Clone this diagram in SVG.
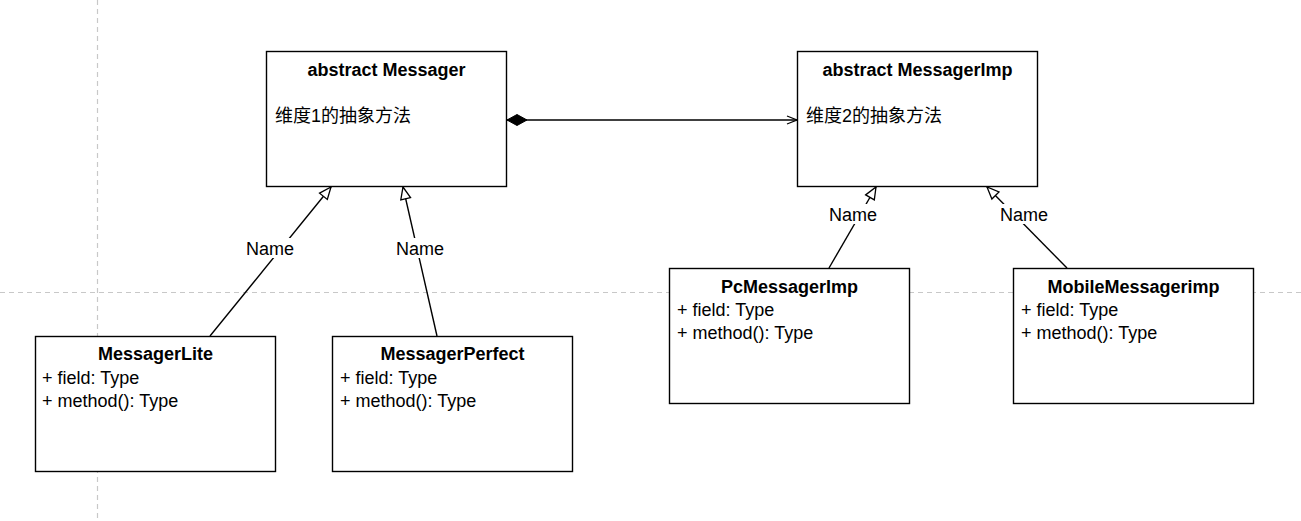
<svg xmlns="http://www.w3.org/2000/svg" width="1301" height="521" viewBox="0 0 1301 521">
<style>
.guide{stroke:#c8c8c8;stroke-width:1.2;stroke-dasharray:5 4;fill:none}
.box{fill:#fff;stroke:#000;stroke-width:1.4}
.t{font-family:"Liberation Sans",Arial,"Noto Sans CJK SC",sans-serif;font-size:18px;fill:#000}
.b{font-weight:bold;text-anchor:middle}
.cn{font-family:"Liberation Sans",Arial,"Noto Sans CJK SC",sans-serif}
.edge{stroke:#000;stroke-width:1.4;fill:none}
.lbl{font-family:"Liberation Sans",Arial,sans-serif;font-size:18px;fill:#000;text-anchor:middle}
.lblbg{fill:#fff}
</style>
<defs>
<marker id="tri" markerUnits="userSpaceOnUse" markerWidth="16" markerHeight="14" refX="12" refY="5" orient="auto" overflow="visible">
<path d="M0,0 L12,5 L0,10 Z" fill="#fff" stroke="#000" stroke-width="1.3"/>
</marker>
<marker id="dia" markerUnits="userSpaceOnUse" markerWidth="24" markerHeight="14" refX="0" refY="5.5" orient="auto" overflow="visible">
<path d="M0,5.5 L10,0 L20,5.5 L10,11 Z" fill="#000" stroke="#000" stroke-width="1"/>
</marker>
<marker id="open" markerUnits="userSpaceOnUse" markerWidth="14" markerHeight="12" refX="10" refY="4" orient="auto" overflow="visible">
<path d="M0,0 L10,4 L0,8" fill="none" stroke="#000" stroke-width="1.3"/>
</marker>
</defs>
<rect width="1301" height="521" fill="#fff"/>
<g id="guides">
<line class="guide" x1="97.5" y1="0" x2="97.5" y2="521"/>
<line class="guide" x1="0" y1="292.5" x2="1301" y2="292.5"/>
</g>
<g id="connectors">
<line class="edge" x1="507" y1="120" x2="797" y2="120" marker-start="url(#dia)" marker-end="url(#open)"/>
<line class="edge" x1="210" y1="336" x2="331" y2="187" marker-end="url(#tri)"/>
<line class="edge" x1="437" y1="336" x2="403" y2="187" marker-end="url(#tri)"/>
<line class="edge" x1="829" y1="268" x2="876" y2="187" marker-end="url(#tri)"/>
<line class="edge" x1="1067" y1="268" x2="987" y2="187" marker-end="url(#tri)"/>
<rect class="lblbg" x="244" y="238" width="52" height="20"/>
<text class="lbl" x="270" y="255">Name</text>
<rect class="lblbg" x="394" y="238" width="52" height="20"/>
<text class="lbl" x="420" y="255">Name</text>
<rect class="lblbg" x="827" y="204" width="52" height="20"/>
<text class="lbl" x="853" y="221">Name</text>
<rect class="lblbg" x="998" y="204" width="52" height="20"/>
<text class="lbl" x="1024" y="221">Name</text>
</g>
<g id="messager">
<rect class="box" x="266.5" y="51.5" width="240" height="135"/>
<text class="t b" x="386.5" y="75.5">abstract Messager</text>
<text class="t cn" x="275" y="121.5">维度1的抽象方法</text>
</g>
<g id="messagerImp">
<rect class="box" x="797.5" y="51.5" width="240" height="135"/>
<text class="t b" x="917.5" y="75.5">abstract MessagerImp</text>
<text class="t cn" x="806" y="121.5">维度2的抽象方法</text>
</g>
<g id="messagerLite">
<rect class="box" x="35.5" y="336.5" width="240" height="135"/>
<text class="t b" x="155.5" y="360">MessagerLite</text>
<text class="t" x="42" y="383.5">+ field: Type</text>
<text class="t" x="42" y="406.5">+ method(): Type</text>
</g>
<g id="messagerPerfect">
<rect class="box" x="332.5" y="336.5" width="240" height="135"/>
<text class="t b" x="452.5" y="360">MessagerPerfect</text>
<text class="t" x="340" y="383.5">+ field: Type</text>
<text class="t" x="340" y="406.5">+ method(): Type</text>
</g>
<g id="pcMessagerImp">
<rect class="box" x="669.5" y="268.5" width="240" height="135"/>
<text class="t b" x="789.5" y="293">PcMessagerImp</text>
<text class="t" x="677" y="315.5">+ field: Type</text>
<text class="t" x="677" y="338.5">+ method(): Type</text>
</g>
<g id="mobileMessagerimp">
<rect class="box" x="1013.5" y="268.5" width="240" height="135"/>
<text class="t b" x="1133.5" y="293">MobileMessagerimp</text>
<text class="t" x="1021" y="315.5">+ field: Type</text>
<text class="t" x="1021" y="338.5">+ method(): Type</text>
</g>
</svg>
